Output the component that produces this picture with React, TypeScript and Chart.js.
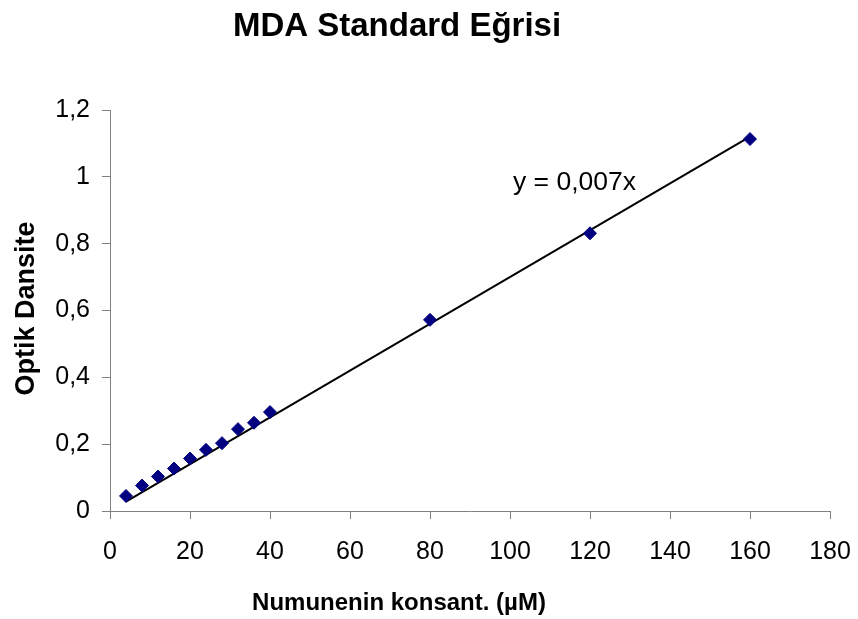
import { useEffect, useRef } from "react";
import { Chart, registerables } from "chart.js";

Chart.register(...registerables);

const chartTitle = "MDA Standard Eğrisi";
const xAxisTitle = "Numunenin konsant. (µM)";
const yAxisTitle = "Optik Dansite";
const equationText = "y = 0,007x";

const concentrations = [4, 8, 12, 16, 20, 24, 28, 32, 36, 40, 80, 120, 160];
const opticalDensity = [0.045, 0.076, 0.103, 0.127, 0.157, 0.183, 0.203, 0.245, 0.264, 0.296, 0.572, 0.831, 1.113];

const trendSlope = 0.007;
const trendXRange = [4, 160];

const xMin = 0;
const xMax = 180;
const xStep = 20;
const yMin = 0;
const yMax = 1.2;
const yStep = 0.2;

const equationAnchor = { x: 100.75, y: 0.962 };

const FONT = '"Liberation Sans", Arial, sans-serif';

const fmt = (v: number) => String(+Number(v).toFixed(1)).replace(".", ",");

const textPlugin = {
  id: "customTexts",
  afterDraw(chart: any) {
    const { ctx } = chart;
    const xs = chart.scales.x;
    const ys = chart.scales.y;
    ctx.save();
    ctx.fillStyle = "#000";
    ctx.textBaseline = "alphabetic";
    ctx.textAlign = "center";
    ctx.font = `bold 33px ${FONT}`;
    ctx.fillText(chartTitle, 397, 36);
    ctx.font = `bold 24px ${FONT}`;
    ctx.fillText(xAxisTitle, 399, 610);
    ctx.save();
    ctx.translate(27, (ys.top + ys.bottom) / 2 - 2);
    ctx.rotate(-Math.PI / 2);
    ctx.textBaseline = "middle";
    ctx.font = `bold 27px ${FONT}`;
    ctx.fillText(yAxisTitle, 0, 0);
    ctx.restore();
    ctx.textAlign = "left";
    ctx.font = `26.5px ${FONT}`;
    ctx.fillText(equationText, xs.getPixelForValue(equationAnchor.x), ys.getPixelForValue(equationAnchor.y));
    ctx.restore();
  },
};

export default function App() {
  const ref = useRef<HTMLCanvasElement>(null);

  useEffect(() => {
    document.body.style.margin = "0";
    const canvas = ref.current;
    if (!canvas) return;
    const points = concentrations.map((x, i) => ({ x, y: opticalDensity[i] }));
    const trend = trendXRange.map((x) => ({ x, y: trendSlope * x }));
    const axisColor = "#808080";
    const chart = new Chart(canvas, {
      type: "scatter",
      data: {
        datasets: [
          {
            label: "MDA",
            data: points,
            pointStyle: "rectRot",
            pointRadius: 6.5,
            pointBackgroundColor: "#000080",
            pointBorderColor: "#000080",
            pointBorderWidth: 1,
            showLine: false,
            order: 0,
          } as any,
          {
            label: "Trend",
            data: trend,
            showLine: true,
            borderColor: "#000",
            borderWidth: 2,
            pointRadius: 0,
            fill: false,
            order: 1,
          } as any,
        ],
      },
      options: {
        responsive: false,
        animation: false,
        layout: { padding: { top: 110, right: 28, bottom: 0, left: 0 } },
        plugins: {
          legend: { display: false },
          tooltip: { enabled: false },
          title: { display: false },
        },
        scales: {
          x: {
            type: "linear",
            min: xMin,
            max: xMax,
            afterFit: (s: any) => {
              s.height = 108;
              s.paddingLeft = 0;
              s.paddingRight = 0;
            },
            ticks: {
              stepSize: xStep,
              color: "#000",
              font: { family: FONT, size: 25 },
              padding: 18,
              maxRotation: 0,
              callback: (v: any) => fmt(v),
            },
            grid: {
              drawOnChartArea: false,
              drawTicks: true,
              tickLength: 8,
              color: axisColor,
            },
            border: { color: axisColor, width: 1 },
          },
          y: {
            type: "linear",
            min: yMin,
            max: yMax,
            afterFit: (s: any) => {
              s.width = 110;
              s.paddingTop = 0;
              s.paddingBottom = 0;
            },
            ticks: {
              stepSize: yStep,
              color: "#000",
              font: { family: FONT, size: 25 },
              padding: 12,
              callback: (v: any) => fmt(v),
            },
            grid: {
              drawOnChartArea: false,
              drawTicks: true,
              tickLength: 8,
              color: axisColor,
            },
            border: { color: axisColor, width: 1 },
          },
        },
      },
      plugins: [textPlugin],
    });
    return () => chart.destroy();
  }, []);

  return (
    <div style={{ width: 858, height: 619, background: "#fff" }}>
      <canvas ref={ref} width={858} height={619} style={{ display: "block" }} />
    </div>
  );
}
